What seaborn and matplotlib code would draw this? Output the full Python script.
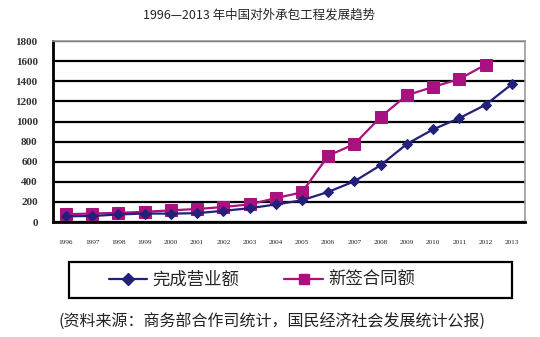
import matplotlib
matplotlib.use("Agg")
import matplotlib.pyplot as plt
import seaborn as sns
import numpy as np
import pandas as pd
from matplotlib.lines import Line2D
from matplotlib.patches import Rectangle

sns.set_theme(style="white")
plt.rcParams['font.family'] = ['Liberation Serif', 'Noto Sans CJK SC', 'DejaVu Sans']

years = list(range(1996, 2014))
completed = [58, 60, 76, 85, 84, 89, 112, 138, 175, 217, 300, 406, 566, 777, 922, 1034, 1166, 1371]
contract_years = list(range(1996, 2013))
contracts = [78, 85, 92, 102, 117, 130, 150, 176, 238, 296, 660, 776, 1046, 1262, 1344, 1423, 1565]
yticks = list(range(0, 1801, 200))

title = "1996—2013 年中国对外承包工程发展趋势"
label_completed = "完成营业额"
label_contracts = "新签合同额"
source = "(资料来源：商务部合作司统计，国民经济社会发展统计公报)"

navy = "#23207a"
magenta = "#a8127e"

fig = plt.figure(figsize=(5.4, 3.37), dpi=100)
ax = fig.add_axes([0.098, 0.341, 0.874, 0.537])

df1 = pd.DataFrame({"year": years, "value": completed})
df2 = pd.DataFrame({"year": contract_years, "value": contracts})

sns.lineplot(data=df1, x="year", y="value", ax=ax, color=navy, lw=1.6,
             marker="D", markersize=5.5, markeredgecolor=navy, zorder=4)
sns.lineplot(data=df2, x="year", y="value", ax=ax, color=magenta, lw=1.6,
             marker="s", markersize=8, markeredgecolor=magenta, zorder=3)

ax.set_xlim(1995.5, 2013.5)
ax.set_ylim(0, 1800)
ax.set_yticks(yticks)
ax.set_yticklabels([str(v) for v in yticks], fontsize=8, fontweight="bold", color="#333333")
ax.set_xticks(years)
ax.set_xticklabels([str(y) for y in years], fontsize=5.2, color="#222222")
ax.set_xticks(np.arange(1995.5, 2013.6, 1.0), minor=True)
ax.tick_params(axis="x", which="major", length=0, pad=13)
ax.tick_params(axis="x", which="minor", direction="in", length=3, width=1.2, color="black")
ax.tick_params(axis="y", length=0, pad=11)
ax.set_xlabel("")
ax.set_ylabel("")
ax.grid(axis="y", color="black", lw=1.6)
ax.set_axisbelow(True)

for s in ["left", "bottom"]:
    ax.spines[s].set_color("black")
    ax.spines[s].set_linewidth(2.0)
for s in ["top", "right"]:
    ax.spines[s].set_color("#999999")
    ax.spines[s].set_linewidth(1.2)

fig.text(0.48, 0.955, title, ha="center", va="center", fontsize=9,
         family=['Noto Sans CJK SC', 'DejaVu Sans'])

handles = [
    Line2D([], [], color=navy, lw=1.6, marker="D", markersize=6),
    Line2D([], [], color=magenta, lw=1.6, marker="s", markersize=7.5),
]
leg = fig.legend(handles, [label_completed, label_contracts], loc="center",
                 bbox_to_anchor=(0.485, 0.169), ncol=2, frameon=False,
                 prop={"family": ['Noto Sans CJK SC', 'DejaVu Sans'], "size": 12.5},
                 handlelength=2.2, columnspacing=2.6, borderpad=0.3, handletextpad=0.3)
fig.patches.append(Rectangle((69 / 540, 1 - 298 / 337), (512 - 69) / 540, 36 / 337,
                             transform=fig.transFigure, fill=False,
                             edgecolor="black", lw=1.6, zorder=5))

fig.text(0.504, 0.045, source, ha="center", va="center", fontsize=11.5,
         family=['Noto Sans CJK SC', 'DejaVu Sans'], color="#222222")

fig.savefig("out.png", dpi=100)
